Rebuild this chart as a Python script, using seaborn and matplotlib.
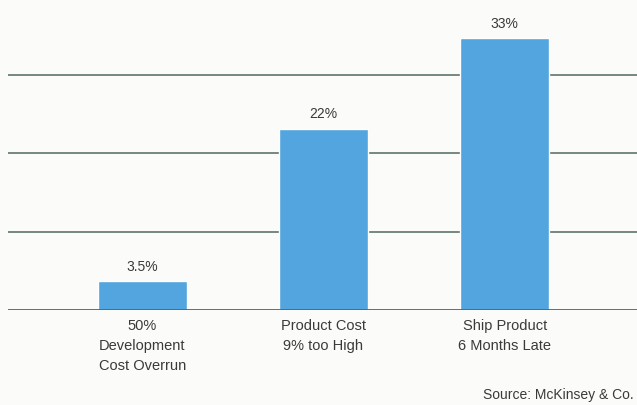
import matplotlib
matplotlib.use("Agg")
import matplotlib.pyplot as plt
import seaborn as sns
import pandas as pd

# data
categories = ["50%\nDevelopment\nCost Overrun", "Product Cost\n9% too High", "Ship Product\n6 Months Late"]
values = [3.5, 22, 33]
value_labels = ["3.5%", "22%", "33%"]
gridlines = [9.5, 19, 28.5]

bar_color = "#52a5de"
line_color = "#4f6a5e"
text_color = "#3a3a3a"

sns.set_theme(style="white")
plt.rcParams["font.family"] = ["Liberation Sans", "DejaVu Sans"]

df = pd.DataFrame({"category": categories, "value": values})

fig = plt.figure(figsize=(6.37, 4.06), dpi=100)
fig.patch.set_facecolor("#fbfbf9")
ax = fig.add_axes([8 / 637, 1 - 311 / 406, 629 / 637, 311 / 406])
ax.set_facecolor("#fbfbf9")

sns.barplot(data=df, x="category", y="value", color=bar_color, width=0.49,
            saturation=1, ax=ax, zorder=3)

for y in gridlines:
    ax.axhline(y, color=line_color, lw=1.1, zorder=1)
ax.axhline(0, color=line_color, lw=1.3, zorder=4)

for i, (v, lab) in enumerate(zip(values, value_labels)):
    ax.text(i, v + 1.0, lab, ha="center", va="bottom", fontsize=10, color=text_color)

ax.set_xlim(-0.74, 2.73)
ax.set_ylim(0, 37.7)
ax.set_xlabel("")
ax.set_ylabel("")
ax.set_yticks([])
ax.set_xticks(range(len(categories)))
ax.set_xticklabels(categories, fontsize=10.5, color=text_color, linespacing=1.55)
ax.tick_params(axis="x", length=0, pad=6)
for s in ax.spines.values():
    s.set_visible(False)

fig.text(634 / 637, 1 - 395 / 406, "Source: McKinsey & Co.", ha="right", va="center",
         fontsize=10, color=text_color)

fig.savefig("out.png", dpi=100, facecolor=fig.get_facecolor())
